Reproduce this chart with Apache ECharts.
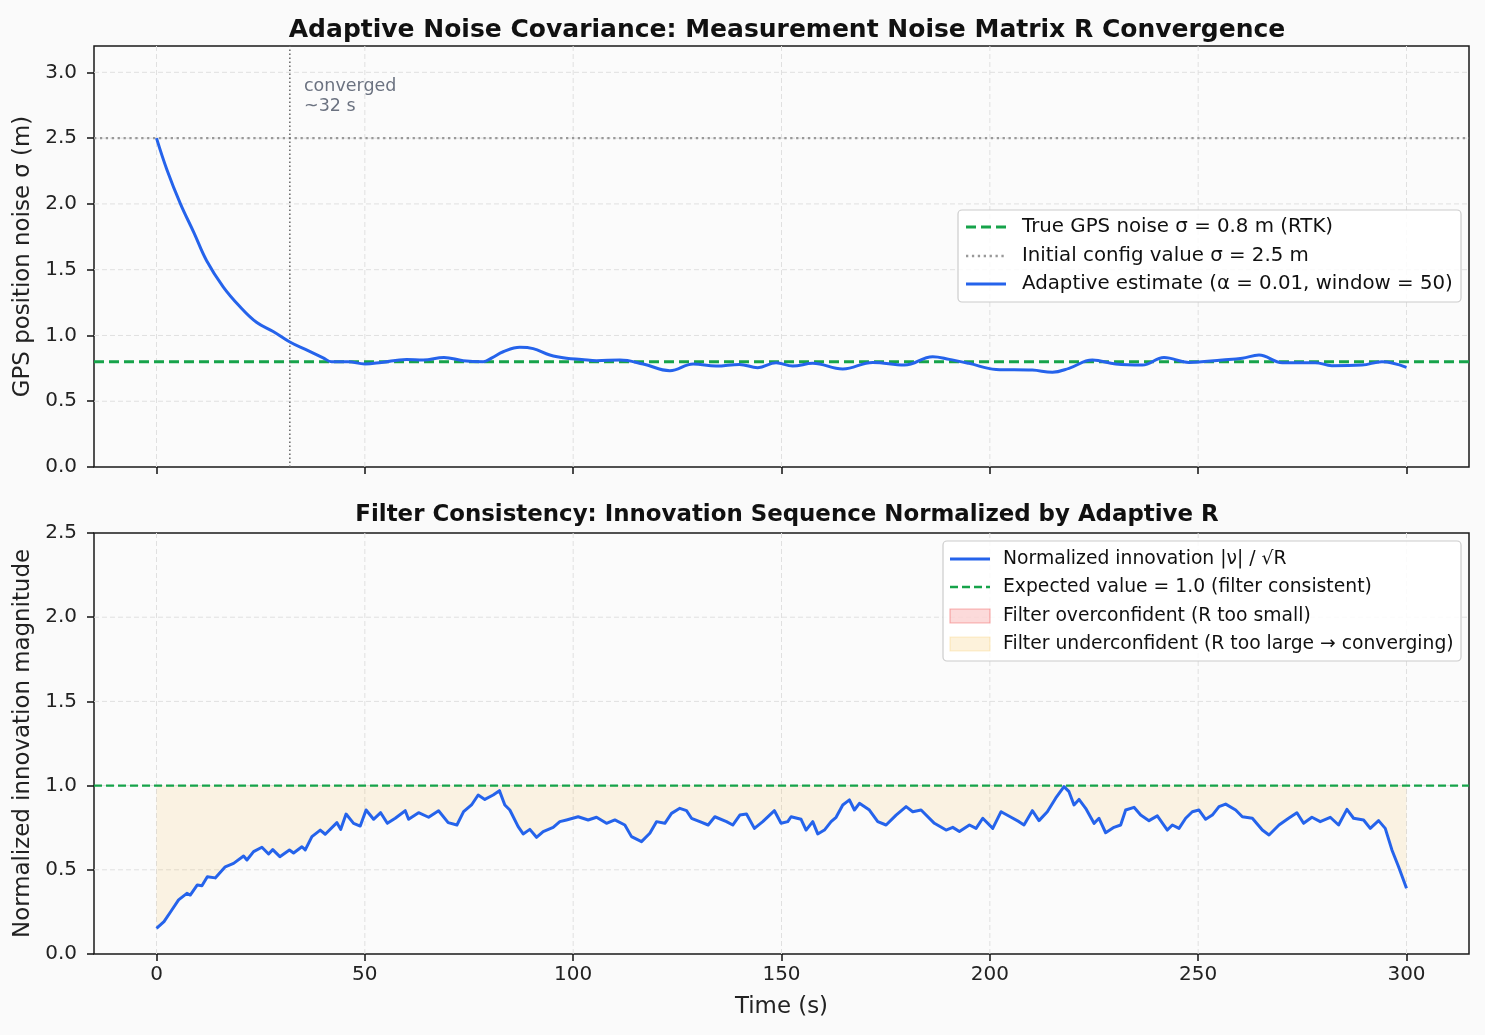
<!DOCTYPE html>
<html><head><meta charset="utf-8">
<script src="https://cdn.jsdelivr.net/npm/echarts@6/dist/echarts.min.js"></script>
<style>html,body{margin:0;padding:0;background:#fafafa}#c{width:1485px;height:1035px}</style>
</head><body><div id="c"></div>
<script>
// ---- data ----
const xTicks = [0, 50, 100, 150, 200, 250, 300];
const topYTicks = [0, 0.5, 1.0, 1.5, 2.0, 2.5, 3.0];
const botYTicks = [0, 0.5, 1.0, 1.5, 2.0, 2.5];
const trueSigma = 0.8;
const initSigma = 2.5;
const convergedT = 32;
const expectedValue = 1.0;

const adaptT = [0,2.5,5.75,9,12,16,20,24,28,32,36,40,42,46,50,54,60,64,69,73.6,78.4,80.5,83.2,87.2,90.4,94.4,98.4,102,105.6,111.2,116.8,123.2,128.8,134.3,139.9,144.3,148.7,152.7,157.5,164.7,171.9,179.5,186.3,190.3,195,201.5,210.2,215,219,224.6,230.2,236.6,241.8,247.8,255.8,260.6,264.6,270.2,278.1,282.1,289.3,294.1,300];
const adaptV = [2.50,2.26,2.00,1.78,1.57,1.37,1.22,1.10,1.03,0.95,0.89,0.83,0.80,0.80,0.783,0.795,0.818,0.813,0.833,0.808,0.80,0.83,0.876,0.91,0.90,0.851,0.826,0.818,0.808,0.813,0.783,0.732,0.783,0.767,0.78,0.755,0.793,0.767,0.788,0.745,0.795,0.775,0.838,0.818,0.788,0.742,0.737,0.72,0.75,0.813,0.783,0.775,0.833,0.795,0.813,0.826,0.851,0.793,0.793,0.77,0.775,0.80,0.757];

const innovT = [0,1.8,3.4,5.3,7.3,8.1,9.8,10.9,12.2,14.1,16.5,18.5,20.9,21.7,23.3,25.3,26.9,27.9,29.6,31.9,32.9,34.9,35.7,37.3,39.3,40.5,43.3,44.2,45.5,47.3,48.9,50.3,52.1,53.8,55.4,57.3,59.7,60.5,62.9,65.3,67.7,70.0,72.1,73.7,75.6,77.2,78.8,80.8,82.3,83.6,84.8,86.8,88.0,89.6,91.2,92.8,95.2,96.8,98.4,101.2,103.6,105.6,108,110,112.4,114,116.4,118.4,120,122,123.6,125.6,127.2,128.4,130.4,132.4,134,136.8,138.3,140,141.6,143.5,145.5,148.3,149.9,151.5,152.3,154.7,155.9,157.5,158.7,160.3,161.9,163.1,164.7,166.3,167.5,168.7,171.1,173.1,175.1,177.5,179.9,181.5,183.5,186.7,189.5,191.1,192.7,195.1,196.7,198.3,200.7,202.7,205.1,207,208.2,210.2,211.8,213.8,215.8,217.8,219,220.2,221.4,223,225,226.2,227.8,229.8,231.4,232.6,234.6,236.2,238.2,240.2,242.6,243.8,245.4,247,248.6,250.2,251.8,253.4,255,256.6,259,260.6,263,265.4,267,269.4,271.7,273.7,275.3,277.3,279.3,281.7,283.7,285.7,287.3,289.7,291.3,293.3,294.9,296.5,298.1,300];
const innovV = [0.152,0.192,0.251,0.321,0.36,0.35,0.41,0.405,0.459,0.452,0.518,0.538,0.582,0.558,0.608,0.634,0.594,0.62,0.578,0.618,0.60,0.637,0.618,0.697,0.736,0.711,0.78,0.74,0.831,0.776,0.76,0.855,0.80,0.839,0.776,0.806,0.851,0.80,0.839,0.812,0.851,0.78,0.766,0.845,0.885,0.944,0.918,0.944,0.97,0.885,0.855,0.756,0.713,0.74,0.693,0.727,0.752,0.786,0.796,0.815,0.796,0.812,0.776,0.796,0.766,0.697,0.667,0.717,0.786,0.776,0.835,0.865,0.851,0.806,0.786,0.766,0.815,0.786,0.766,0.825,0.831,0.746,0.786,0.851,0.776,0.786,0.815,0.80,0.736,0.786,0.713,0.736,0.786,0.812,0.885,0.915,0.855,0.895,0.855,0.786,0.766,0.825,0.875,0.845,0.855,0.776,0.736,0.752,0.727,0.766,0.746,0.806,0.746,0.845,0.812,0.786,0.766,0.851,0.792,0.845,0.925,0.994,0.964,0.885,0.918,0.865,0.776,0.806,0.72,0.752,0.766,0.855,0.871,0.825,0.792,0.82,0.736,0.766,0.746,0.806,0.845,0.855,0.80,0.825,0.875,0.89,0.855,0.815,0.806,0.736,0.707,0.766,0.806,0.839,0.776,0.812,0.786,0.812,0.766,0.859,0.806,0.796,0.746,0.792,0.746,0.618,0.518,0.39];

const xRange = [-15, 315];
const topYRange = [0, 3.2];
const botYRange = [0, 2.5];

// ---- build ----
const FONT = 'DejaVu Sans';
const BLUE = '#2563eb', GREEN = '#16a34a';
const zip = (a, b) => a.map((t, i) => [t, b[i]]);
const adaptData = zip(adaptT, adaptV);
const innovData = zip(innovT, innovV);

function xAxis(gi, showLabels) {
  return {
    type: 'value', gridIndex: gi, min: xRange[0], max: xRange[1],
    axisLine: {show: false, onZero: false},
    axisTick: {show: true, length: 7, lineStyle: {color: '#111', width: 1.5}, customValues: xTicks},
    axisLabel: {show: showLabels, customValues: xTicks, color: '#222', fontFamily: FONT, fontSize: 20, margin: 11},
    splitLine: {show: false},
    name: showLabels ? 'Time (s)' : '', nameLocation: 'middle', nameGap: 42,
    nameTextStyle: {color: '#222', fontFamily: FONT, fontSize: 22.9}
  };
}
function yAxis(gi, range, ticks, name, gap) {
  return {
    type: 'value', gridIndex: gi, min: range[0], max: range[1],
    axisLine: {show: false, onZero: false},
    axisTick: {show: true, length: 7, lineStyle: {color: '#111', width: 1.5}, customValues: ticks},
    axisLabel: {customValues: ticks, color: '#222', fontFamily: FONT, fontSize: 20, margin: 17,
      formatter: v => v.toFixed(1)},
    splitLine: {show: false},
    name: name, nameLocation: 'middle', nameGap: gap,
    nameTextStyle: {color: '#222', fontFamily: FONT, fontSize: 22.9}
  };
}
const gridLineStyle = {color: '#e0e0e0', width: 1, type: [5, 3]};
function gridLines(xi, yi, yRange, yTicks) {
  const s = [];
  xTicks.forEach(t => s.push({type: 'line', xAxisIndex: xi, yAxisIndex: yi, data: [[t, yRange[0]], [t, yRange[1]]],
    symbol: 'none', silent: true, lineStyle: gridLineStyle, z: 1, animation: false}));
  yTicks.filter(v => v > yRange[0] && v < yRange[1]).forEach(v => s.push({type: 'line', xAxisIndex: xi, yAxisIndex: yi,
    data: [[xRange[0], v], [xRange[1], v]],
    symbol: 'none', silent: true, lineStyle: gridLineStyle, z: 1, animation: false}));
  return s;
}

const series = [
  ...gridLines(0, 0, topYRange, topYTicks),
  ...gridLines(1, 1, botYRange, botYTicks),
  {name: 'True GPS noise', type: 'line', xAxisIndex: 0, yAxisIndex: 0, symbol: 'none', z: 3,
    data: [[xRange[0], trueSigma], [xRange[1], trueSigma]], lineStyle: {color: GREEN, width: 3.2, type: [10, 5]}},
  {name: 'Initial config', type: 'line', xAxisIndex: 0, yAxisIndex: 0, symbol: 'none', z: 3,
    data: [[xRange[0], initSigma], [xRange[1], initSigma]], lineStyle: {color: '#999', width: 2.3, type: [2.3, 3.6]}},
  {name: 'Converged', type: 'line', xAxisIndex: 0, yAxisIndex: 0, symbol: 'none', z: 3,
    data: [[convergedT, topYRange[0]], [convergedT, topYRange[1]]], lineStyle: {color: '#666', width: 1.5, type: [1.5, 2.5]}},
  {name: 'Adaptive estimate', type: 'line', xAxisIndex: 0, yAxisIndex: 0, symbol: 'none', z: 4, smooth: 0.4,
    data: adaptData, lineStyle: {color: BLUE, width: 3}},
  {name: 'underconfident fill', type: 'line', xAxisIndex: 1, yAxisIndex: 1, symbol: 'none', z: 2,
    data: innovData, lineStyle: {width: 0, opacity: 0}, areaStyle: {origin: expectedValue, color: 'rgba(245,180,40,0.17)'}},
  {name: 'Expected value', type: 'line', xAxisIndex: 1, yAxisIndex: 1, symbol: 'none', z: 3,
    data: [[xRange[0], expectedValue], [xRange[1], expectedValue]], lineStyle: {color: GREEN, width: 2.4, type: [8, 4]}},
  {name: 'Normalized innovation', type: 'line', xAxisIndex: 1, yAxisIndex: 1, symbol: 'none', z: 4,
    data: innovData, lineStyle: {color: BLUE, width: 3, join: 'round'}}
];

// legends (drawn as graphics)
function legendBox(x, y, w, h, items, sx, tx, fs) {
  const els = [{type: 'rect', shape: {x: x, y: y, width: w, height: h, r: 4},
    style: {fill: 'rgba(255,255,255,0.85)', stroke: '#cccccc', lineWidth: 1.2}, z: 100}];
  items.forEach(it => {
    if (it.kind === 'line') {
      els.push({type: 'line', shape: {x1: sx, y1: it.y, x2: sx + 40, y2: it.y},
        style: {stroke: it.color, lineWidth: it.width, lineDash: it.dash || null}, z: 101});
    } else {
      els.push({type: 'rect', shape: {x: sx, y: it.y - 7, width: 40, height: 14},
        style: {fill: it.fill, stroke: it.stroke, lineWidth: 1.2}, z: 101});
    }
    els.push({type: 'text', x: tx, y: it.y, style: {text: it.text, fill: '#111', font: fs + 'px "' + FONT + '"',
      textVerticalAlign: 'middle', textAlign: 'left'}, z: 101});
  });
  return els;
}
const graphics = [
  ...legendBox(958, 210, 503, 92, [
    {kind: 'line', y: 227, color: GREEN, width: 3.2, dash: [10, 5], text: 'True GPS noise σ = 0.8 m (RTK)'},
    {kind: 'line', y: 256, color: '#999', width: 2.3, dash: [2.3, 3.6], text: 'Initial config value σ = 2.5 m'},
    {kind: 'line', y: 284, color: BLUE, width: 3, text: 'Adaptive estimate (α = 0.01, window = 50)'}
  ], 966, 1022, 19.8),
  ...legendBox(943, 541, 518, 120, [
    {kind: 'line', y: 559, color: BLUE, width: 3, text: 'Normalized innovation |ν| / √R'},
    {kind: 'line', y: 587, color: GREEN, width: 2.4, dash: [8, 4], text: 'Expected value = 1.0 (filter consistent)'},
    {kind: 'rect', y: 616, fill: 'rgba(239,68,68,0.2)', stroke: 'rgba(239,68,68,0.4)', text: 'Filter overconfident (R too small)'},
    {kind: 'rect', y: 644, fill: 'rgba(245,180,40,0.17)', stroke: 'rgba(245,180,40,0.22)', text: 'Filter underconfident (R too large → converging)'}
  ], 950, 1003, 18.75),
  {type: 'text', x: 304, y: 86, style: {text: 'converged', fill: '#6b7280', font: '17.5px "' + FONT + '"', textVerticalAlign: 'middle'}, z: 50},
  {type: 'text', x: 304, y: 106, style: {text: '~32 s', fill: '#6b7280', font: '17.5px "' + FONT + '"', textVerticalAlign: 'middle'}, z: 50}
];

const chart = echarts.init(document.getElementById('c'), null, {renderer: 'canvas'});
chart.setOption({
  backgroundColor: '#fafafa',
  animation: false,
  title: [
    {text: 'Adaptive Noise Covariance: Measurement Noise Matrix R Convergence', left: 782, top: 13, textAlign: 'center',
      textStyle: {fontFamily: FONT, fontSize: 25, fontWeight: 'bold', color: '#111'}},
    {text: 'Filter Consistency: Innovation Sequence Normalized by Adaptive R', left: 782, top: 499, textAlign: 'center',
      textStyle: {fontFamily: FONT, fontSize: 22.9, fontWeight: 'bold', color: '#111'}}
  ],
  grid: [
    {left: 94, right: 16, top: 46, height: 421, show: true, backgroundColor: '#fbfbfb', borderColor: '#1a1a1a', borderWidth: 1.5},
    {left: 94, right: 16, top: 533, height: 421, show: true, backgroundColor: '#fbfbfb', borderColor: '#1a1a1a', borderWidth: 1.5}
  ],
  xAxis: [xAxis(0, false), xAxis(1, true)],
  yAxis: [
    yAxis(0, topYRange, topYTicks, 'GPS position noise σ (m)', 57),
    yAxis(1, botYRange, botYTicks, 'Normalized innovation magnitude', 57)
  ],
  series: series,
  graphic: graphics
});
</script></body></html>
